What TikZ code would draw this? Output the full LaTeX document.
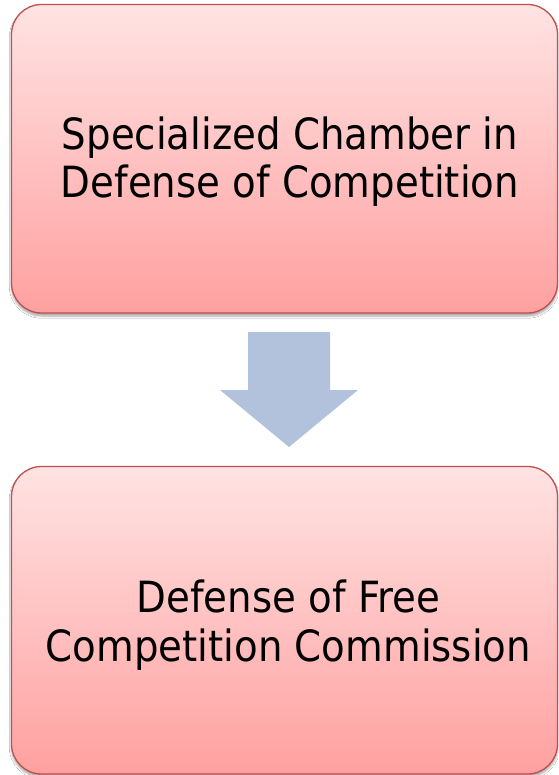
\documentclass[tikz,border=0pt]{standalone}
\usepackage{fontspec}
\setmainfont{DejaVu Sans}[FakeStretch=0.9]
\usetikzlibrary{shadows.blur}
\definecolor{boxtop}{HTML}{FFE3E3}
\definecolor{boxbot}{HTML}{FFA0A0}
\definecolor{boxline}{HTML}{C0504D}
\definecolor{arrowfill}{HTML}{B3C2DC}
\tikzset{
  roundbox/.style={draw=boxline, line width=1.3pt, rounded corners=30pt,
    top color=boxtop, bottom color=boxbot,
    blur shadow={shadow xshift=0pt, shadow yshift=-3pt, shadow blur steps=6, shadow opacity=35}},
  boxtext/.style={align=center, font=\fontsize{43}{48.5}\selectfont, text=black, inner sep=0pt}
}
\begin{document}
\begin{tikzpicture}[x=1pt,y=1pt]
\useasboundingbox (0,0) rectangle (558,-775);
\fill[white] (0,0) rectangle (558,-775);
\path[roundbox] (11.5,-4.5) rectangle (557.5,-313);
\node[boxtext] (top) at (290,-161.5) {Specialized Chamber in\\Defense of Competition};
\path[roundbox] (11.5,-466.5) rectangle (557.5,-774);
\node[boxtext] (bottom) at (288.5,-625) {Defense of Free\\Competition Commission};
\fill[arrowfill] (248,-332) -- (330,-332) -- (330,-390) -- (358,-390) -- (289,-447) -- (220,-390) -- (248,-390) -- cycle;
\end{tikzpicture}
\end{document}
